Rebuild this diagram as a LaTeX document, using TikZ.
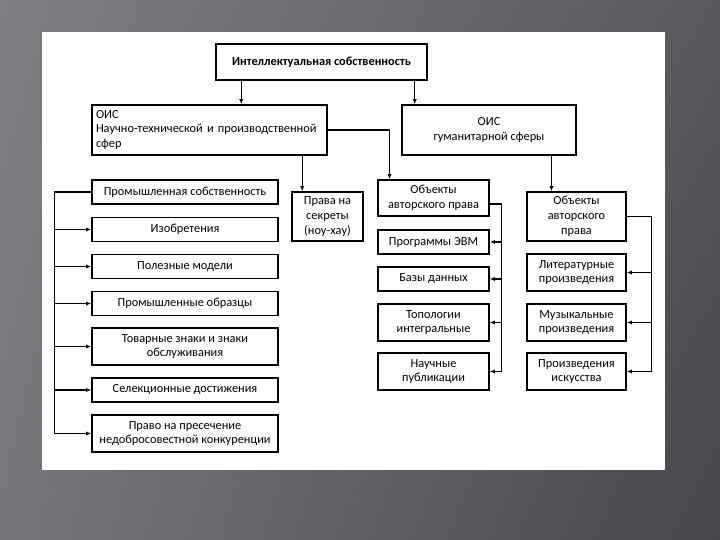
\documentclass[tikz,border=0pt]{standalone}
\usepackage{fontspec}
\setmainfont{Carlito}
\usepackage{xcolor}
\usetikzlibrary{arrows.meta,positioning,calc,shadings}

\definecolor{slideUL}{RGB}{126,126,131}
\definecolor{slideLL}{RGB}{118,118,123}
\definecolor{slideUR}{RGB}{88,88,93}
\definecolor{slideLR}{RGB}{70,70,76}

\begin{document}
\begin{tikzpicture}[
    x=1bp, y=-1bp,
    every node/.style={font=\fontsize{12.4}{14.8}\selectfont},
    blk/.style={draw,line width=1.6pt,align=center,inner sep=2pt,fill=white},
    colA/.style={blk,minimum width=186bp,minimum height=24bp},
    colB/.style={blk,minimum width=111bp,minimum height=24bp},
    colC/.style={blk,minimum width=99bp,minimum height=37bp},
    line/.style={-{Latex[length=1.8mm,width=1.5mm]},line width=1.1pt},
    fline/.style={line width=1.1pt}
]
\useasboundingbox (0,0) rectangle (720,540);

% Slide background and panel
\shade[upper left=slideUL,lower left=slideLL,upper right=slideUR,lower right=slideLR]
    (0,0) rectangle (720,540);
\fill[white] (42,32) rectangle (665,470);

% Root
\node[blk,minimum width=211bp,minimum height=36bp,font=\fontsize{12.4}{14.8}\selectfont\bfseries]
    (IP) at (321.5,62) {Интеллектуальная собственность};

% Two spheres
\node[blk,minimum width=235bp,minimum height=50bp,text width=227bp,align=left]
    (OISA) at (209.5,130) {ОИС\\Научно-технической и производственной\\сфер};
\node[blk,minimum width=174bp,minimum height=50bp]
    (OISB) at (489,130) {ОИС\\гуманитарной сферы};

\draw[line] ([xshift=26bp]IP.south west) -- ([xshift=26bp]IP.south west |- OISA.north);
\draw[line] ([xshift=-13bp]IP.south east) -- ([xshift=-13bp]IP.south east |- OISB.north);

% Industrial property column
\node[colA] (PS)  at (185,192)   {Промышленная собственность};
\node[colA] (INV) at (185,229.5) {Изобретения};
\node[colA] (UM)  at (185,266.5) {Полезные модели};
\node[colA] (ID)  at (185,303.5) {Промышленные образцы};
\node[colA,minimum height=37bp] (TM) at (185,346.5) {Товарные знаки и знаки\\обслуживания};
\node[colA] (SEL) at (185,390)   {Селекционные достижения};
\node[colA,minimum height=37bp] (UC) at (185,433.5) {Право на пресечение\\недобросовестной конкуренции};

\draw[fline] (PS.west) -- ++(-37,0) coordinate (busA) -- (busA |- UC.west);
\foreach \n in {INV,UM,ID,TM,SEL,UC}
    \draw[line] (busA |- \n.west) -- (\n.west);

% Know-how
\node[blk,minimum width=71bp,minimum height=49bp] (KH) at (327.5,216.5)
    {Права на\\секреты\\(ноу-хау)};
\draw[line] ([xshift=11bp]KH.north west |- OISA.south) -- ([xshift=11bp]KH.north west);

% Related rights column
\node[colB,minimum height=36bp] (CRA) at (433.5,198) {Объекты\\авторского права};
\node[colB] (SW)  at (433.5,242)   {Программы ЭВМ};
\node[colB] (DB)  at (433.5,279)   {Базы данных};
\node[colB,minimum height=37bp] (TOP) at (433.5,322.5) {Топологии\\интегральные};
\node[colB,minimum height=37bp] (SCI) at (433.5,371.5) {Научные\\публикации};

\draw[line] (OISA.east) -| ([xshift=-44bp]CRA.north);
\draw[fline] ([yshift=-6bp]CRA.east) -- ++(12,0) coordinate (busB) -- (busB |- SCI.east);
\foreach \n in {SW,DB,TOP,SCI}
    \draw[line] (busB |- \n.east) -- (\n.east);

% Copyright column
\node[colC,minimum height=49bp] (CRB) at (576.5,216.5) {Объекты\\авторского\\права};
\node[colC] (LIT) at (576.5,272.5) {Литературные\\произведения};
\node[colC] (MUS) at (576.5,322.5) {Музыкальные\\произведения};
\node[colC] (ART) at (576.5,371.5) {Произведения\\искусства};

\draw[line] ([xshift=-25bp]CRB.north |- OISB.south) -- ([xshift=-25bp]CRB.north);
\draw[fline] (CRB.east) -- ++(25,0) coordinate (busC) -- (busC |- ART.east);
\foreach \n in {LIT,MUS,ART}
    \draw[line] (busC |- \n.east) -- (\n.east);

\end{tikzpicture}
\end{document}
